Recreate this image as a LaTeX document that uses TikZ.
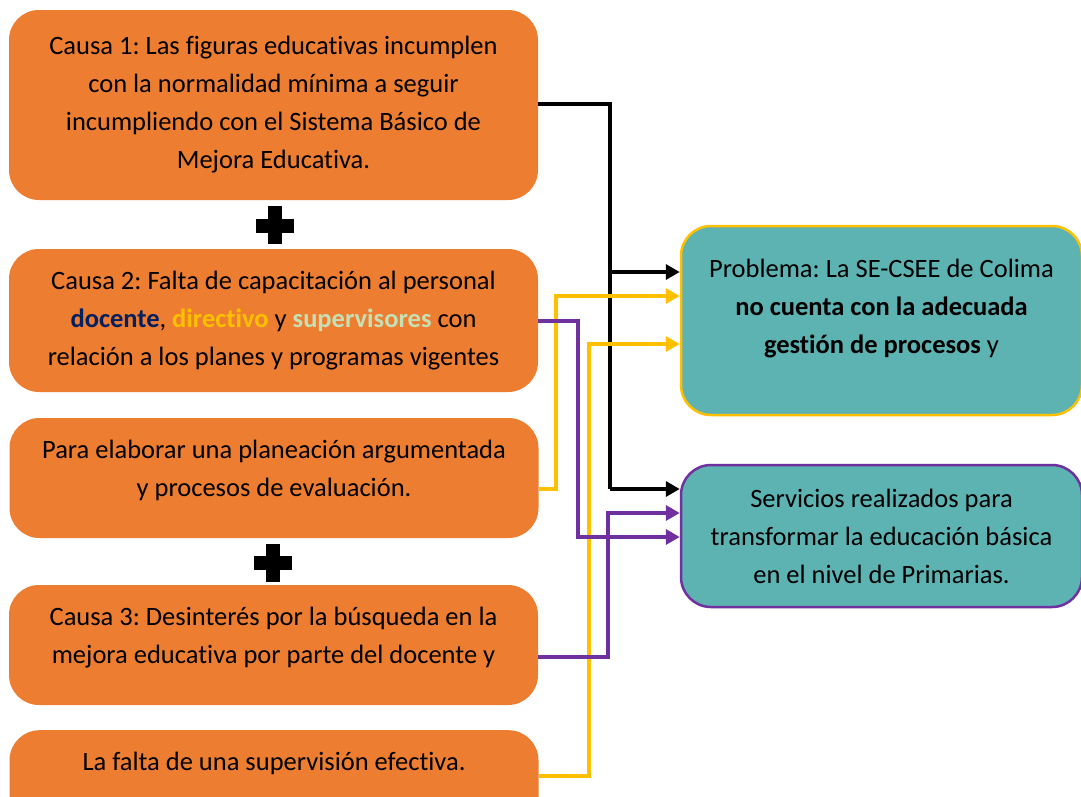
\documentclass[tikz,border=0pt]{standalone}
\usepackage{fontspec}
\setmainfont{Carlito}[Ligatures=NoCommon]
\usetikzlibrary{arrows.meta}
\definecolor{naranja}{HTML}{ED7D31}
\definecolor{turquesa}{HTML}{5DB3B2}
\definecolor{amarillo}{HTML}{FFC000}
\definecolor{morado}{HTML}{7030A0}
\definecolor{azul}{HTML}{002060}
\definecolor{verdeclaro}{HTML}{C5E0B4}
\frenchspacing

\begin{document}
\begin{tikzpicture}[x=1pt,y=-1pt,
	causa/.style={fill=naranja,rounded corners=30pt,minimum width=529pt,inner sep=0pt,align=center,font=\fontsize{26.5}{38}\selectfont},
	efecto/.style={fill=turquesa,line width=2.5pt,rounded corners=30pt,minimum width=401pt,inner sep=0pt,align=center,font=\fontsize{26.5}{38}\selectfont},
	flecha/.style={line width=4pt,-{Triangle[length=14pt,width=15pt]}},
	linea/.style={line width=4pt}]
	\useasboundingbox (0,0) rectangle (1081,796);
	\node[causa,minimum height=190pt] (1) at (273.5,105) {Causa 1: Las figuras educativas incumplen\\con la normalidad mínima a seguir\\incumpliendo con el Sistema Básico de\\Mejora Educativa.};
	\node[causa,minimum height=143pt] (2) at (273.5,320.5) {Causa 2: Falta de capacitación al personal\\{\bfseries\color{azul}docente}, {\bfseries\color{amarillo}directivo} y {\bfseries\color{verdeclaro}supervisores} con\\relación a los planes y programas vigentes};
	\node[causa,minimum height=120pt,text depth=20pt] (3) at (274,478) {Para elaborar una planeación argumentada\\y procesos de evaluación.};
	\node[causa,minimum height=120pt,text depth=20pt] (4) at (273.5,645) {Causa 3: Desinterés por la búsqueda en la\\mejora educativa por parte del docente y};
	\node[causa,anchor=north,text height=22pt,text depth=60pt,inner ysep=18pt] (5) at (274,730) {La falta de una supervisión efectiva.};
	\node[efecto,draw=amarillo,minimum height=189pt,text height=126pt,text depth=60pt] (6) at (881.5,320.5) {Problema: La SE-CSEE de Colima\\\textbf{no cuenta con la adecuada}\\\textbf{gestión de procesos} y};
	\node[efecto,draw=morado,minimum height=142pt] (7) at (881.5,536) {Servicios realizados para\\transformar la educación básica\\en el nivel de Primarias.};
	\fill (268,206) rectangle (282,244);
	\fill (256,218.5) rectangle (294,232.5);
	\fill (266,544) rectangle (280,582);
	\fill (254,556) rectangle (292,570);
	\coordinate (a) at (610,104);
	\draw[linea] (1.east |- a) -- (a) -- (610,489);
	\draw[flecha] (610,489) -- (7.west |- 0,489);
	\draw[flecha] (610,272) -- (6.west |- 0,272);
	\draw[flecha,amarillo] (3.east |- 0,489) -| (556,296) -- (6.west |- 0,296);
	\draw[flecha,amarillo] (5.east |- 0,776) -| (589,344) -- (6.west |- 0,344);
	\draw[flecha,morado] (2.east |- 0,321) -| (578,537) -- (7.west |- 0,537);
	\draw[flecha,morado] (4.east |- 0,657) -| (608,513) -- (7.west |- 0,513);
\end{tikzpicture}
\end{document}
